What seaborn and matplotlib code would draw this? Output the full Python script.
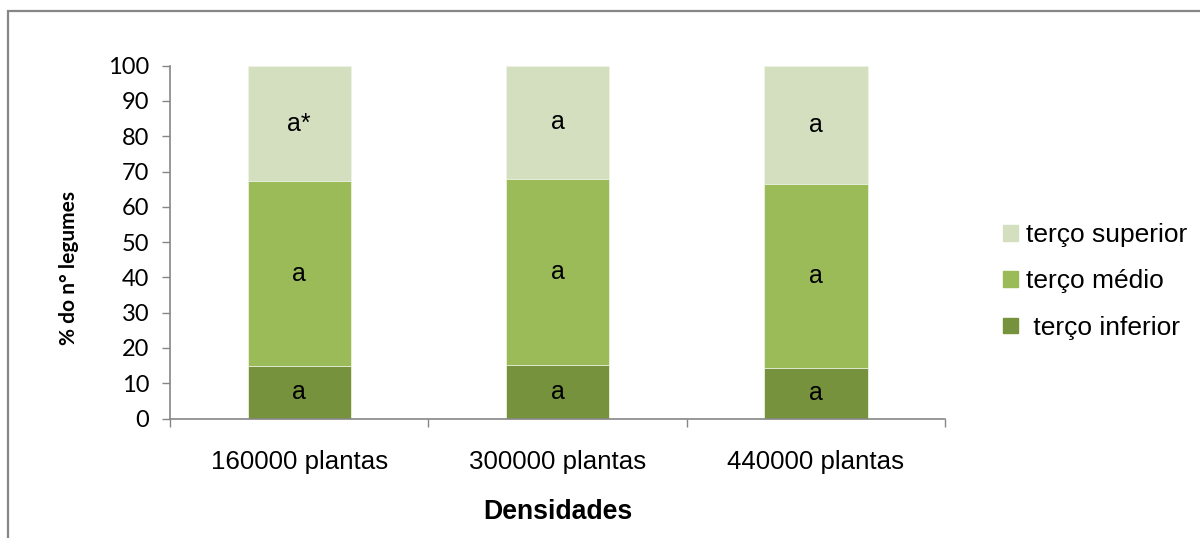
import numpy as np
import pandas as pd
import matplotlib
matplotlib.use("Agg")
import matplotlib.pyplot as plt
import matplotlib.patches as mpatches
import seaborn as sns

# Pod distribution along the plant (% of pods per third), by plant density
densidades = ["160000 plantas", "300000 plantas", "440000 plantas"]
terco_inferior = [15.0, 15.3, 14.2]
terco_medio = [52.2, 52.6, 52.2]
terco_superior = [32.8, 32.1, 33.6]

letras_inferior = ["a", "a", "a"]
letras_medio = ["a", "a", "a"]
letras_superior = ["a*", "a", "a"]

cor_inferior = "#76923C"
cor_medio = "#9BBB59"
cor_superior = "#D3DFBF"
cor_eixo = "#868686"

sns.set_theme(style="white")
plt.rcParams["font.family"] = ["Liberation Sans", "DejaVu Sans"]
plt.rcParams["text.color"] = "black"
plt.rcParams["axes.labelcolor"] = "black"
plt.rcParams["xtick.labelcolor"] = "black"
plt.rcParams["ytick.labelcolor"] = "black"

df = pd.DataFrame({
    "densidade": densidades,
    "inferior": terco_inferior,
    "medio": terco_medio,
    "superior": terco_superior,
})
df["topo_inferior"] = df["inferior"]
df["topo_medio"] = df["inferior"] + df["medio"]
df["topo_superior"] = df["topo_medio"] + df["superior"]

fig = plt.figure(figsize=(12, 5.38), dpi=100)
ax = fig.add_axes([0.1417, 0.2221, 0.6458, 0.6558])

# stacked bars drawn as overlapping cumulative totals
for col, cor in [("topo_superior", cor_superior),
                 ("topo_medio", cor_medio),
                 ("topo_inferior", cor_inferior)]:
    sns.barplot(data=df, x="densidade", y=col, order=densidades, color=cor,
                width=0.4, saturation=1, ax=ax, linewidth=0.6,
                edgecolor="#EEF3E4")

# significance letters in the middle of each segment
for i in range(len(densidades)):
    b0 = 0
    b1 = df.loc[i, "topo_inferior"]
    b2 = df.loc[i, "topo_medio"]
    b3 = df.loc[i, "topo_superior"]
    ax.text(i, (b0 + b1) / 2, letras_inferior[i], ha="center", va="center",
            fontsize=18, color="black")
    ax.text(i, (b1 + b2) / 2, letras_medio[i], ha="center", va="center",
            fontsize=18, color="black")
    ax.text(i, (b2 + b3) / 2, letras_superior[i], ha="center", va="center",
            fontsize=18, color="black")

ax.set_xlim(-0.5, 2.5)
ax.set_ylim(0, 100)
ax.set_yticks(np.arange(0, 101, 10))
ax.set_yticklabels([str(v) for v in range(0, 101, 10)], fontsize=17,
                   family=["Lato", "DejaVu Sans"])
ax.set_xticks(range(len(densidades)))
ax.set_xticklabels(densidades, fontsize=18.6)
ax.set_xticks([-0.5, 0.5, 1.5, 2.5], minor=True)
ax.tick_params(axis="x", which="major", length=0, pad=23)
ax.tick_params(axis="x", which="minor", length=6, width=1.0, color=cor_eixo,
               direction="out", bottom=True)
ax.tick_params(axis="y", length=6, width=1.0, color=cor_eixo, direction="out",
               left=True, pad=9)

for s in ["top", "right"]:
    ax.spines[s].set_visible(False)
for s in ["left", "bottom"]:
    ax.spines[s].set_color(cor_eixo)
    ax.spines[s].set_linewidth(1.2)

ax.set_xlabel("Densidades", fontsize=19.2, fontweight="bold", labelpad=18)
ax.set_ylabel("% do n° legumes", fontsize=15, fontweight="bold",
              family=["Lato", "DejaVu Sans"])
ax.yaxis.set_label_coords(-0.117, 0.426)

handles = [mpatches.Patch(color=cor_superior, label="terço superior"),
           mpatches.Patch(color=cor_medio, label="terço médio"),
           mpatches.Patch(color=cor_inferior, label=" terço inferior")]
fig.legend(handles=handles, loc="center left", bbox_to_anchor=(0.836, 0.477),
           frameon=False, fontsize=19, handlelength=0.55, handleheight=0.55,
           handletextpad=0.3, labelspacing=0.85, borderaxespad=0,
           borderpad=0)

# chart-area border
fig.patches.append(mpatches.Rectangle((8 / 1200, -0.1), 1.2, 1 - 10.5 / 538 + 0.1,
                                      transform=fig.transFigure, fill=False,
                                      edgecolor=cor_eixo, linewidth=1.6))

fig.savefig("out.png", dpi=100)
